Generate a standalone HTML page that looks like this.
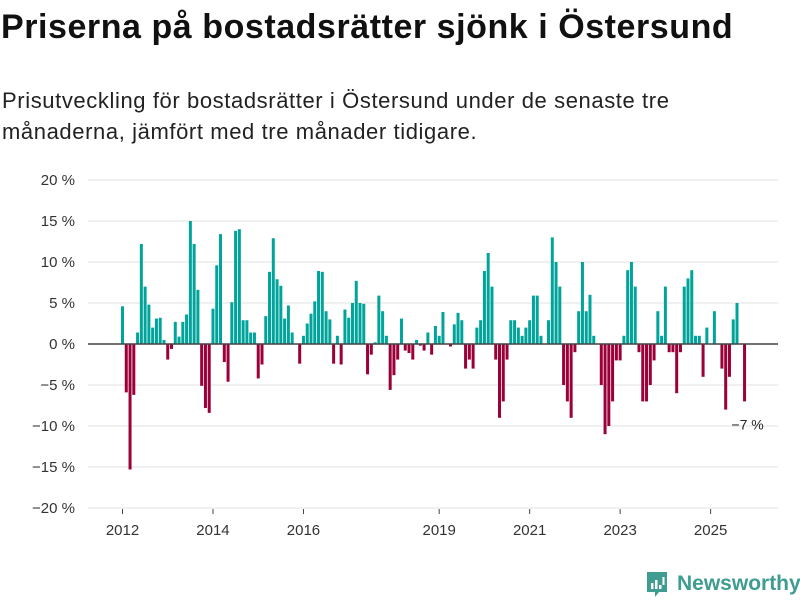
<!DOCTYPE html>
<html><head><meta charset="utf-8">
<style>
body{margin:0;width:800px;height:600px;background:#fff;font-family:"Liberation Sans",sans-serif;overflow:hidden;position:relative}
h1{position:absolute;left:1px;top:8px;margin:0;font-size:34px;font-weight:bold;color:#111;letter-spacing:0.55px;white-space:nowrap}
p.sub{position:absolute;left:2px;top:85px;margin:0;font-size:22px;line-height:31px;color:#222;letter-spacing:0.6px;white-space:nowrap}
svg{position:absolute;left:0;top:0}
</style></head><body>
<h1>Priserna på bostadsrätter sjönk i Östersund</h1>
<p class="sub">Prisutveckling för bostadsrätter i Östersund under de senaste tre<br>månaderna, jämfört med tre månader tidigare.</p>
<svg id="chart" width="800" height="600"></svg>
<script>
const values = [4.6,-5.9,-15.3,-6.2,1.4,12.2,7.0,4.8,2.0,3.1,3.2,0.5,-1.9,-0.6,2.7,0.9,2.7,3.6,15,12.2,6.6,-5.1,-7.8,-8.4,4.3,9.6,13.4,-2.2,-4.6,5.1,13.8,14,2.9,2.9,1.4,1.4,-4.2,-2.5,3.4,
8.8,12.9,7.9,7.1,3.1,4.7,1.4,0,-2.4,1.0,2.5,3.7,5.2,8.9,8.8,4.0,3.0,-2.4,1.0,-2.5,4.2,3.2,5.0,7.7,5.0,4.9,-3.7,-1.3,0.2,5.9,4.0,1.0,-5.6,-3.8,-1.9,3.1,-0.8,-1.1,-1.9,0.5,-0.2,-0.8,
1.4,-1.3,2.2,1.0,3.9,0,-0.3,2.4,3.8,2.9,-3.0,-1.9,-3.0,2.0,2.9,8.9,11.1,7.0,-1.9,-9.0,-7.0,-1.9,2.9,2.9,2.0,1.0,2.0,2.9,5.9,5.9,1.0,0,2.9,13,10,7.0,-5.0,-7.0,-9.0,-1.0,4.0,
10,4,6,1,0,-5,-11,-10,-7,-2,-2,1,9,10,7,-1,-7,-7,-5,-2,4,1,7,-1,-1,-6,-1,7,8,9,1,1,-4,2,0,4,0,-3,-8,-4,3,5,0,-7];
const yTicks = [20,15,10,5,0,-5,-10,-15,-20];
const xYears = [2012,2014,2016,2019,2021,2023,2025];
const startYear = 2012;
const lastLabel = "−7 %";

const NS="http://www.w3.org/2000/svg";
const svg=document.getElementById('chart');
const y=v=>344 - v*8.2;
const x=i=>122.5 + i*3.77;
function mk(t,a){const e=document.createElementNS(NS,t);for(const k in a)e.setAttribute(k,a[k]);svg.appendChild(e);return e;}
yTicks.forEach(t=>{
  const g=mk('line',{x1:88,x2:778,y1:y(t),y2:y(t),stroke:'#e2e2e2','stroke-width':1});
  
  
  const l=mk('text',{x:75,y:y(t)+5,'text-anchor':'end','font-size':15,fill:'#333','font-family':'Liberation Sans, sans-serif'});
  l.textContent=(t<0?'−'+(-t):t)+' %';
  
  
});
values.forEach((v,i)=>{
  const top=Math.min(y(v),y(0)), h=Math.abs(y(v)-y(0));
  const b=mk('rect',{x:x(i)-1.5,y:top,width:3,height:h,fill:v>=0?'#00a49a':'#9b0039'});
  
  
});
const z=mk('line',{x1:88,x2:778,y1:y(0),y2:y(0),stroke:'#444','stroke-width':1.5});


xYears.forEach(yr=>{
  const xi=x((yr-startYear)*12);
  const tk=mk('line',{x1:xi,x2:xi,y1:509,y2:514,stroke:'#444','stroke-width':1});
  
  
  const t=mk('text',{x:xi,y:535,'text-anchor':'middle','font-size':15,fill:'#333','font-family':'Liberation Sans, sans-serif'});
  t.textContent=yr;
  
  
});
const li=values.length-1;
const an=mk('text',{x:x(li)+3,y:y(values[li])+28,'text-anchor':'middle','font-size':14,fill:'#222','font-family':'Liberation Sans, sans-serif'});
an.textContent=lastLabel;


</script>
<div style="position:absolute;left:645px;top:570px;height:28px;display:flex;align-items:center">
<svg width="24" height="28" viewBox="0 0 24 28" style="position:static"><path d="M2 2h20v20h-8l-4 5v-5H2z" fill="#3f9c91"/><rect x="6" y="13" width="2.5" height="6" fill="#fff"/><rect x="10" y="10" width="2.5" height="9" fill="#fff"/><rect x="14" y="15" width="2.5" height="4" fill="#fff"/><rect x="17.5" y="7" width="2" height="8" fill="#fff"/></svg>
<span style="font-size:21px;color:#3f9c91;margin-left:8px;font-weight:bold">Newsworthy</span></div>
</body></html>
